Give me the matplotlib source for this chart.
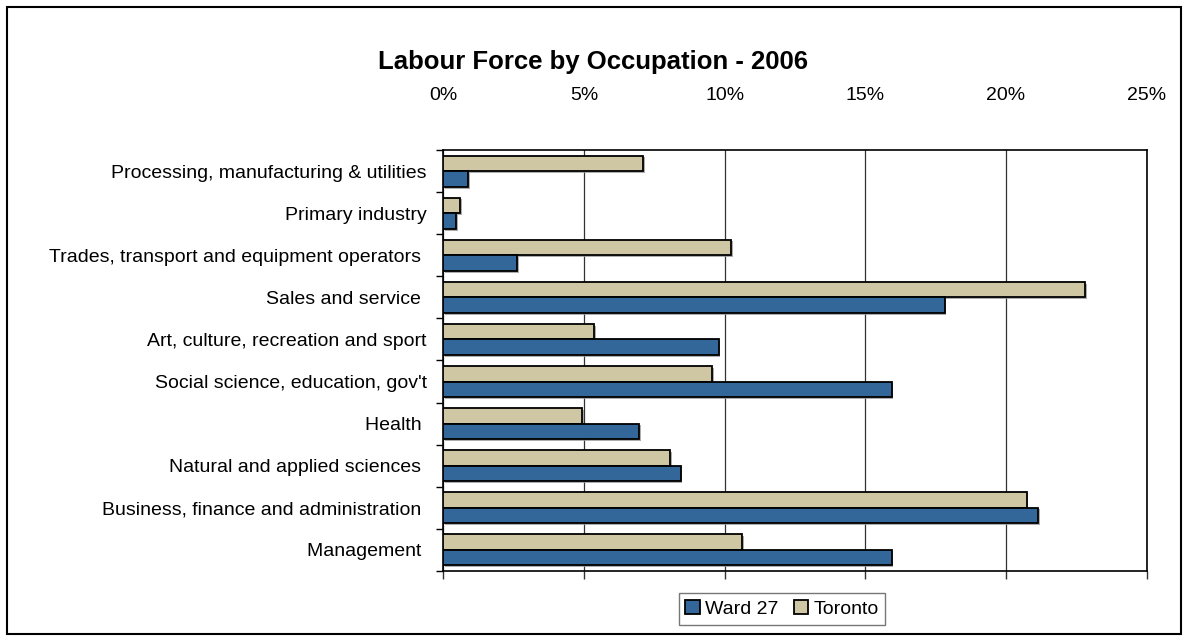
import matplotlib
matplotlib.use("Agg")
import matplotlib.pyplot as plt
import matplotlib.patheffects as pe
from matplotlib.patches import Rectangle
from matplotlib.ticker import FixedLocator, PercentFormatter
import numpy as np

plt.rcParams['font.family'] = ['Liberation Sans', 'DejaVu Sans']

categories = [
    "Processing, manufacturing & utilities",
    "Primary industry",
    "Trades, transport and equipment operators ",
    "Sales and service ",
    "Art, culture, recreation and sport",
    "Social science, education, gov't",
    "Health ",
    "Natural and applied sciences ",
    "Business, finance and administration ",
    "Management ",
]
ward27 = [0.89, 0.45, 2.63, 17.82, 9.79, 15.94, 6.96, 8.44, 21.14, 15.93]
toronto = [7.11, 0.59, 10.23, 22.81, 5.36, 9.56, 4.93, 8.06, 20.73, 10.63]
xticks = [0, 5, 10, 15, 20, 25]

title = "Labour Force by Occupation - 2006"
ward_color = "#336699"
tor_color = "#CFC7A3"

fig = plt.figure(figsize=(11.88, 6.4), dpi=100)
ax = fig.add_axes([0.3732, 0.1083, 0.9652 - 0.3732, 0.7652 - 0.1083])

y = np.arange(len(categories))
h = 0.37
shadow = [pe.SimplePatchShadow(offset=(1.2, -1.2), shadow_rgbFace='#999999', alpha=0.8), pe.Normal()]
b1 = ax.barh(y - h / 2, toronto, height=h, color=tor_color, edgecolor='black', linewidth=1.3,
             label='Toronto', zorder=3)
b2 = ax.barh(y + h / 2, ward27, height=h, color=ward_color, edgecolor='black', linewidth=1.3,
             label='Ward 27', zorder=3)
for b in list(b1) + list(b2):
    b.set_path_effects(shadow)

ax.set_xlim(0, 25)
ax.set_ylim(len(categories) - 0.5, -0.5)
ax.xaxis.set_major_locator(FixedLocator(xticks))
ax.xaxis.set_major_formatter(PercentFormatter(decimals=0))
ax.tick_params(axis='x', top=False, bottom=True, labeltop=True, labelbottom=False,
               direction='out', length=6, width=1, pad=27, labelsize=14, color='#333333')
ax.grid(axis='x', color='#333333', linewidth=0.9, zorder=0)

ax.set_yticks(y)
ax.set_yticklabels(categories)
ax.set_yticks(np.arange(len(categories) + 1) - 0.5, minor=True)
ax.tick_params(axis='y', which='major', length=0, pad=12, labelsize=14)
ax.tick_params(axis='y', which='minor', length=5, width=1, direction='out')

for s in ax.spines.values():
    s.set_linewidth(1.2)
    s.set_color('black')

fig.text(593 / 1188, 1 - 62 / 640, title, fontsize=18.5, fontweight='bold',
         ha='center', va='center')

handles = [b2, b1]
leg = fig.legend(handles, ['Ward 27', 'Toronto'], loc='center',
                 bbox_to_anchor=(782 / 1188, 1 - 609 / 640), ncol=2, fontsize=14,
                 frameon=True, fancybox=False, edgecolor='#555555',
                 handlelength=0.75, handleheight=0.75, handletextpad=0.25,
                 columnspacing=0.8, borderpad=0.35, borderaxespad=0)
leg.get_frame().set_linewidth(1.0)
for hnd in leg.legend_handles:
    hnd.set_path_effects([])

fig.patches.append(Rectangle((7 / 1188, 1 - 634 / 640), (1181 - 7) / 1188, (634 - 7) / 640,
                             transform=fig.transFigure, fill=False, edgecolor='black',
                             linewidth=1.5))

fig.savefig("out.png", dpi=100)
